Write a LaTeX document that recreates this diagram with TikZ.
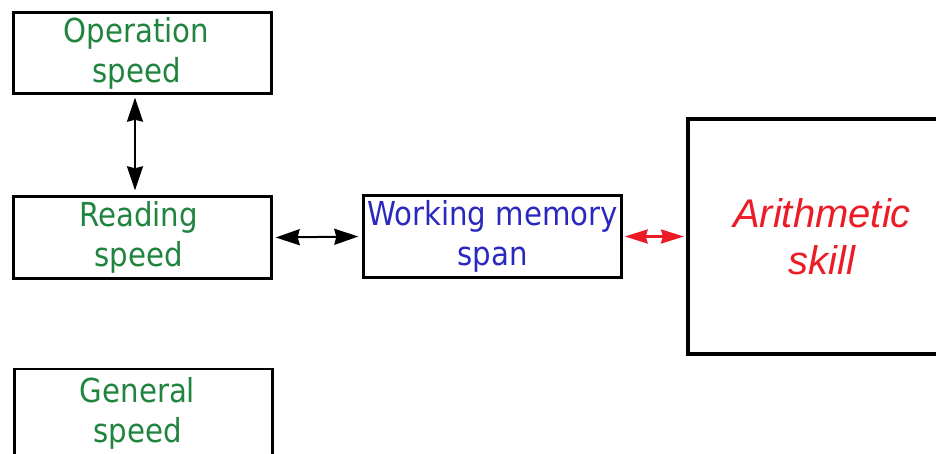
\documentclass[tikz,border=0pt]{standalone}
\usepackage{fontspec}
\usetikzlibrary{arrows.meta}
\newfontfamily\boxfont{DejaVu Sans}[FakeStretch=0.886]
\newfontfamily\skillfont{Liberation Sans}
\definecolor{speedgreen}{RGB}{32,132,62}
\definecolor{wmblue}{RGB}{42,40,190}
\definecolor{skillred}{RGB}{236,28,38}
\tikzset{
  x=1pt, y=1pt,
  factorbox/.style={draw=black, line width=2.4pt, minimum width=258pt,
    minimum height=82pt, inner sep=0pt, align=center,
    font=\boxfont\fontsize{33}{40}\selectfont},
  speedtext/.style={align=center, text=speedgreen, inner sep=0pt,
    font=\boxfont\fontsize{33}{40}\selectfont},
  link/.style={line width=2pt, {Stealth[length=24pt,width=16pt,inset=2pt]}-{Stealth[length=24pt,width=16pt,inset=2pt]}},
}
\begin{document}
\begin{tikzpicture}
  \useasboundingbox (0,0) rectangle (936,-454);
  \clip (0,0) rectangle (936,-454);
  % speed measures on the left
  \node[factorbox, minimum height=81pt,
        label={[speedtext, xshift=-6pt]center:Operation\\speed}] (op)   at (142.5,-53)   {};
  \node[factorbox,
        label={[speedtext, xshift=-4pt]center:Reading\\speed}]   (read) at (142.5,-237.5) {};
  \node[factorbox, minimum height=86pt,
        label={[speedtext, xshift=-6pt, yshift=-1pt]center:General\\speed}] (gen) at (143.5,-412) {};
  % working memory in the middle
  \node[factorbox, text=wmblue] (wm) at (492.5,-236.5) {Working memory\\span};
  % outcome on the right
  \node[draw=black, line width=4pt, minimum width=268pt, minimum height=235pt,
        inner sep=0pt, align=center, text=skillred,
        font=\skillfont\itshape\fontsize{40}{47}\selectfont]
        (arith) at (822,-236.5) {Arithmetic\\skill};
  % links
  \draw[link] ([xshift=-7.5pt,yshift=-3pt]op.south) -- ([xshift=-7.5pt,yshift=5pt]read.north);
  \draw[link] ([xshift=3pt]read.east) -- ([xshift=-4pt]wm.west);
  \draw[line width=2.6pt, draw=skillred, fill=skillred,
        {Stealth[length=23pt,width=14pt,inset=2pt]}-{Stealth[length=23pt,width=14pt,inset=2pt]}]
        ([xshift=2pt]wm.east) -- ([xshift=-2pt]arith.west);
\end{tikzpicture}
\end{document}
